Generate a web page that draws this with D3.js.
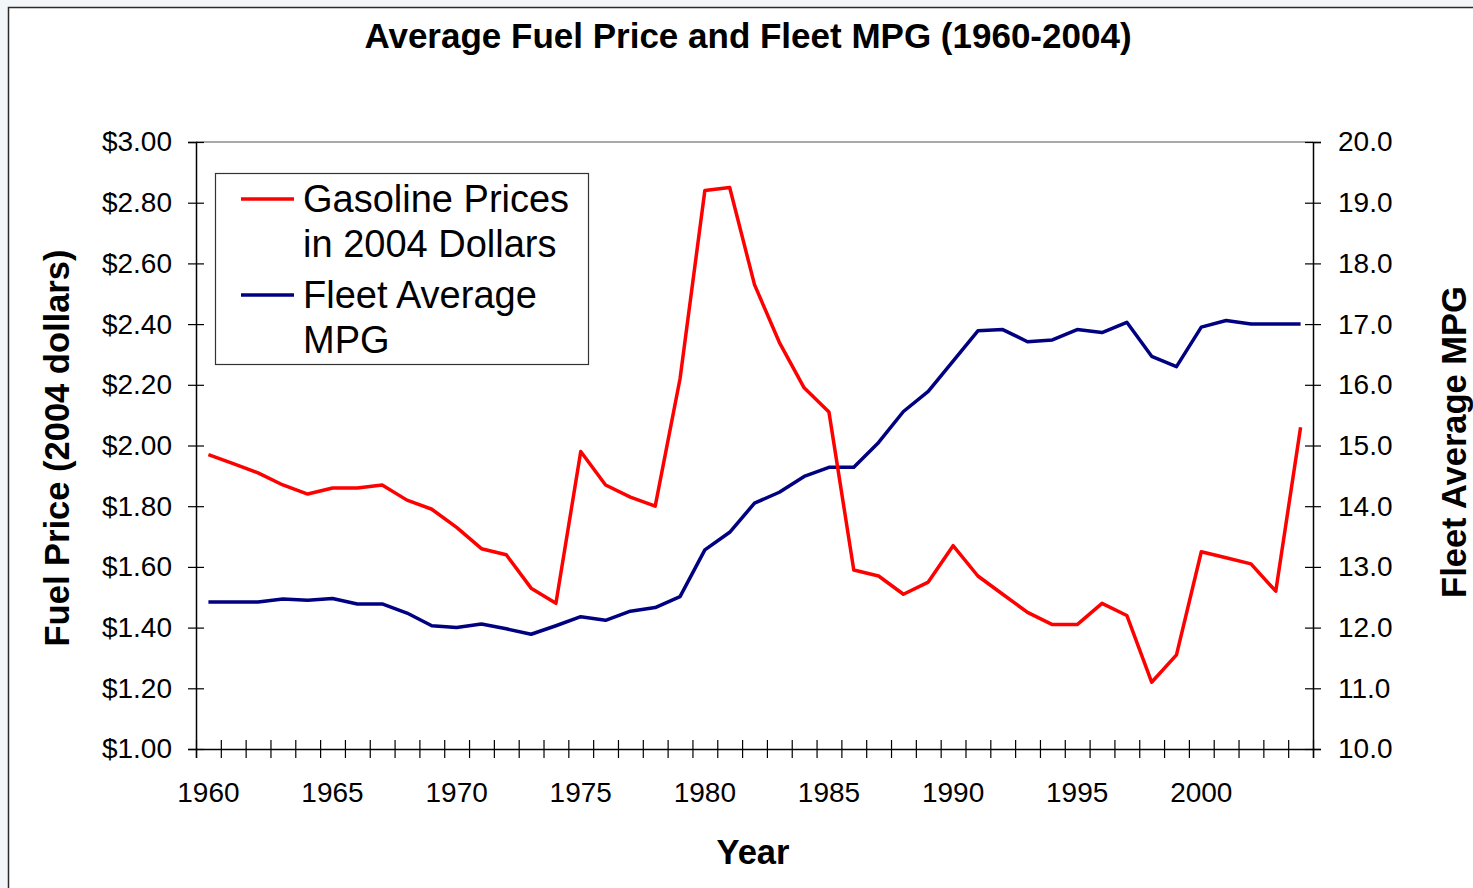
<!DOCTYPE html>
<html>
<head>
<meta charset="utf-8">
<title>Average Fuel Price and Fleet MPG</title>
<script src="https://d3js.org/d3.v7.min.js"></script>
<style>
  body { margin: 0; background: #f3f6f9; }
  svg { display: block; font-family: "Liberation Sans", Arial, sans-serif; }
</style>
</head>
<body>
<script>
// data
var years = d3.range(1960, 2005);
var gasPrice = [1.97, 1.94, 1.91, 1.87, 1.84, 1.86, 1.86, 1.87, 1.82, 1.79,
                1.73, 1.66, 1.64, 1.53, 1.48, 1.98, 1.87, 1.83, 1.80, 2.22,
                2.84, 2.85, 2.53, 2.34, 2.19, 2.11, 1.59, 1.57, 1.51, 1.55,
                1.67, 1.57, 1.51, 1.45, 1.41, 1.41, 1.48, 1.44, 1.22, 1.31,
                1.65, 1.63, 1.61, 1.52, 2.06];
var fleetMpg = [12.42, 12.42, 12.42, 12.47, 12.45, 12.48, 12.39, 12.39, 12.24, 12.03,
                12.00, 12.06, 11.98, 11.89, 12.03, 12.18, 12.12, 12.27, 12.33, 12.51,
                13.28, 13.57, 14.05, 14.23, 14.49, 14.64, 14.64, 15.05, 15.56, 15.89,
                16.39, 16.89, 16.91, 16.71, 16.74, 16.91, 16.86, 17.03, 16.47, 16.30,
                16.95, 17.06, 17.00, 17.00, 17.00];
var priceTicks = [1.0, 1.2, 1.4, 1.6, 1.8, 2.0, 2.2, 2.4, 2.6, 2.8, 3.0];
var mpgTicks = [10, 11, 12, 13, 14, 15, 16, 17, 18, 19, 20];
var yearLabels = [1960, 1965, 1970, 1975, 1980, 1985, 1990, 1995, 2000];

var width = 1473, height = 888;
var plot = {left: 196, right: 1313, top: 142, bottom: 749};

var svg = d3.select("body").append("svg")
    .attr("width", width)
    .attr("height", height);

// chart frame
svg.append("rect")
    .attr("x", 8.5).attr("y", 7.5)
    .attr("width", 1500).attr("height", 900)
    .attr("fill", "#fff")
    .attr("stroke", "#2b2b2b")
    .attr("stroke-width", 1.5);

var x = d3.scaleBand().domain(years).range([plot.left, plot.right]);
var xIdx = d3.scaleLinear().domain([0, years.length]).range([plot.left, plot.right]);
var yL = d3.scaleLinear().domain([1, 3]).range([plot.bottom, plot.top]);
var yR = d3.scaleLinear().domain([10, 20]).range([plot.bottom, plot.top]);

function cx(d) { return x(d) + x.bandwidth() / 2; }

// plot area top border
svg.append("line")
    .attr("x1", plot.left).attr("x2", plot.right)
    .attr("y1", plot.top).attr("y2", plot.top)
    .attr("stroke", "#8c8c8c").attr("stroke-width", 1.5);

// x axis: tick marks between categories
var xTicks = svg.append("g")
    .attr("transform", "translate(0," + plot.bottom + ")")
    .call(d3.axisBottom(xIdx).tickValues(d3.range(0, years.length + 1)).tickSize(9).tickFormat(""));
xTicks.select(".domain").attr("stroke", "#000").attr("stroke-width", 1.5);
xTicks.selectAll(".tick line").attr("y1", -9).attr("y2", 9).attr("stroke", "#000").attr("stroke-width", 1.2);

svg.append("g").selectAll("text")
    .data(yearLabels)
    .enter().append("text")
    .attr("x", function(d) { return cx(d); })
    .attr("y", 802)
    .attr("text-anchor", "middle")
    .attr("font-size", 28)
    .text(function(d) { return d; });

// left axis
var left = svg.append("g")
    .attr("transform", "translate(" + plot.left + ",0)")
    .call(d3.axisLeft(yL).tickValues(priceTicks).tickSize(8).tickPadding(16).tickFormat(d3.format("$.2f")));
left.select(".domain").attr("stroke", "#000").attr("stroke-width", 1.5);
left.selectAll(".tick line").attr("x1", -8).attr("x2", 8).attr("stroke", "#000").attr("stroke-width", 1.2);
left.selectAll(".tick text").attr("font-size", 28).attr("fill", "#000")
    .attr("font-family", "Liberation Sans, Arial, sans-serif");

// right axis
var right = svg.append("g")
    .attr("transform", "translate(" + plot.right + ",0)")
    .call(d3.axisRight(yR).tickValues(mpgTicks).tickSize(8).tickPadding(17).tickFormat(d3.format(".1f")));
right.select(".domain").attr("stroke", "#000").attr("stroke-width", 1.5);
right.selectAll(".tick line").attr("x1", -8).attr("x2", 8).attr("stroke", "#000").attr("stroke-width", 1.2);
right.selectAll(".tick text").attr("font-size", 28).attr("fill", "#000")
    .attr("font-family", "Liberation Sans, Arial, sans-serif");

// lines
var priceLine = d3.line()
    .x(function(d, i) { return cx(years[i]); })
    .y(function(d) { return yL(d); });
var mpgLine = d3.line()
    .x(function(d, i) { return cx(years[i]); })
    .y(function(d) { return yR(d); });

svg.append("path")
    .datum(fleetMpg)
    .attr("d", mpgLine)
    .attr("fill", "none")
    .attr("stroke", "#000080")
    .attr("stroke-width", 3.5)
    .attr("stroke-linejoin", "round");

svg.append("path")
    .datum(gasPrice)
    .attr("d", priceLine)
    .attr("fill", "none")
    .attr("stroke", "#ff0000")
    .attr("stroke-width", 3.5)
    .attr("stroke-linejoin", "round");

// title
svg.append("text")
    .attr("x", 748).attr("y", 48)
    .attr("text-anchor", "middle")
    .attr("font-size", 35).attr("font-weight", "bold")
    .text("Average Fuel Price and Fleet MPG (1960-2004)");

// axis titles
svg.append("text")
    .attr("x", 753).attr("y", 864)
    .attr("text-anchor", "middle")
    .attr("font-size", 34.5).attr("font-weight", "bold")
    .text("Year");

svg.append("text")
    .attr("transform", "translate(69,448) rotate(-90)")
    .attr("text-anchor", "middle")
    .attr("font-size", 34.5).attr("font-weight", "bold")
    .text("Fuel Price (2004 dollars)");

svg.append("text")
    .attr("transform", "translate(1466,442) rotate(-90)")
    .attr("text-anchor", "middle")
    .attr("font-size", 34.5).attr("font-weight", "bold")
    .text("Fleet Average MPG");

// legend
var legend = svg.append("g");
legend.append("rect")
    .attr("x", 215.5).attr("y", 173.5)
    .attr("width", 373).attr("height", 191)
    .attr("fill", "#fff")
    .attr("stroke", "#333")
    .attr("stroke-width", 1.2);

var legendItems = [
  {color: "#ff0000", lines: ["Gasoline Prices", "in 2004 Dollars"], y: 199},
  {color: "#000080", lines: ["Fleet Average", "MPG"], y: 295}
];
legendItems.forEach(function(item) {
  legend.append("line")
      .attr("x1", 241).attr("x2", 294)
      .attr("y1", item.y).attr("y2", item.y)
      .attr("stroke", item.color).attr("stroke-width", 3.5);
  item.lines.forEach(function(t, j) {
    legend.append("text")
        .attr("x", 303).attr("y", item.y + 13 + j * 45)
        .attr("font-size", 38)
        .text(t);
  });
});
</script>
</body>
</html>
